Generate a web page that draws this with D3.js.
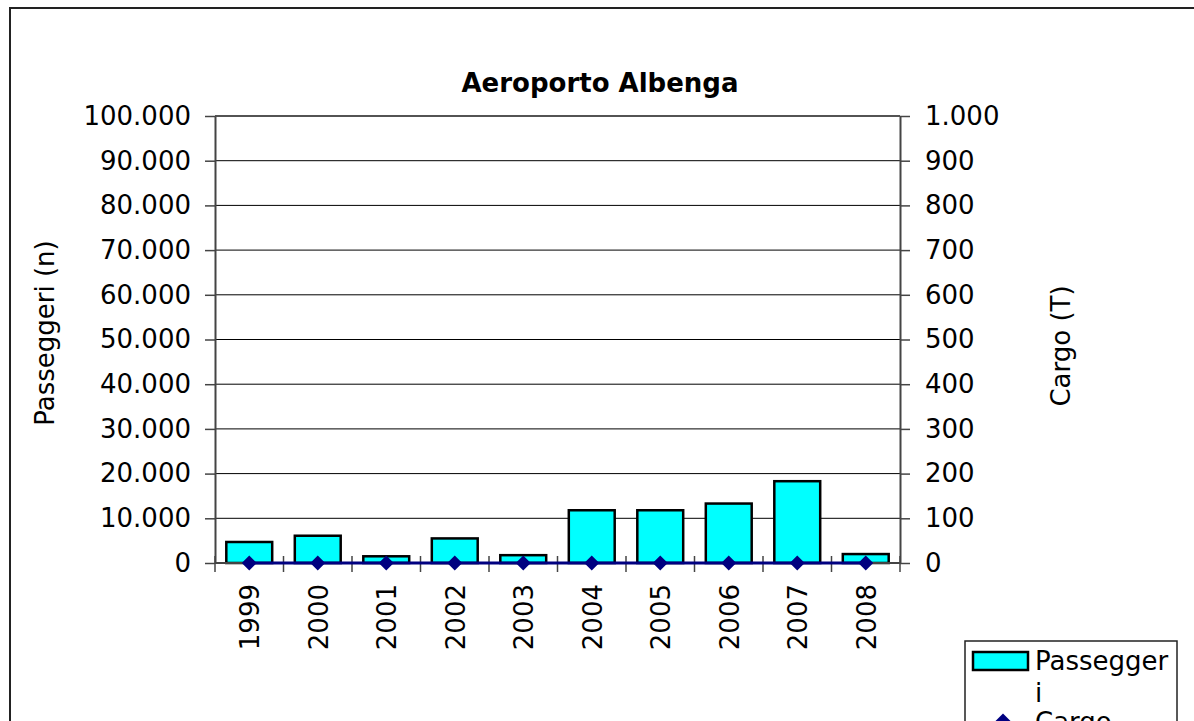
<!DOCTYPE html>
<html>
<head>
<meta charset="utf-8">
<script src="https://cdn.jsdelivr.net/npm/d3@7"></script>
<style>
html,body{margin:0;padding:0;background:#fff;}
svg{display:block;font-family:"DejaVu Sans",Verdana,sans-serif;}
</style>
</head>
<body>
<svg id="chart" width="1194" height="721"></svg>
<script>
const categories = ["1999","2000","2001","2002","2003","2004","2005","2006","2007","2008"];
const passeggeri = [4700, 6100, 1500, 5500, 1750, 11800, 11800, 13300, 18300, 2000];
const cargo = [0, 0, 0, 0, 0, 0, 0, 0, 0, 0];
const leftTicks = [0,10000,20000,30000,40000,50000,60000,70000,80000,90000,100000];
const rightTicks = [0,100,200,300,400,500,600,700,800,900,1000];
const title = "Aeroporto Albenga";
const leftTitle = "Passeggeri (n)";
const rightTitle = "Cargo (T)";
const seriesNames = ["Passeggeri", "Cargo"];

const svg = d3.select("#chart");
const plot = {left:215, right:900, top:116, bottom:563};
const fs = 26;

// outer border
svg.append("rect").attr("x",10).attr("y",8).attr("width",1200).attr("height",800)
  .attr("fill","#fff").attr("stroke","#222").attr("stroke-width",2);

const fmt = v => d3.format(",")(v).replace(/,/g,".");

const x = d3.scaleBand().domain(categories).range([plot.left, plot.right]).paddingInner(0).paddingOuter(0);
const yL = d3.scaleLinear().domain([0,100000]).range([plot.bottom, plot.top]);
const yR = d3.scaleLinear().domain([0,1000]).range([plot.bottom, plot.top]);

// gridlines
svg.append("g").selectAll("line").data(leftTicks.filter(d=>d>0)).join("line")
  .attr("x1",plot.left).attr("x2",plot.right)
  .attr("y1",d=>yL(d)).attr("y2",d=>yL(d))
  .attr("stroke","#000").attr("stroke-width",1);

// left axis
const gL = svg.append("g").attr("transform",`translate(${plot.left},0)`)
  .call(d3.axisLeft(yL).tickValues(leftTicks).tickFormat(fmt).tickSizeInner(10).tickSizeOuter(0).tickPadding(14));
gL.select(".domain").attr("stroke","#444").attr("stroke-width",2);
gL.selectAll(".tick line").attr("stroke","#444").attr("stroke-width",1.5);
gL.selectAll("text").attr("font-size",fs).attr("fill","#000").attr("font-family","DejaVu Sans");

// right axis
const gR = svg.append("g").attr("transform",`translate(${plot.right},0)`)
  .call(d3.axisRight(yR).tickValues(rightTicks).tickFormat(fmt).tickSizeInner(10).tickSizeOuter(0).tickPadding(15));
gR.select(".domain").attr("stroke","#444").attr("stroke-width",2);
gR.selectAll(".tick line").attr("stroke","#444").attr("stroke-width",1.5);
gR.selectAll("text").attr("font-size",fs).attr("fill","#000").attr("font-family","DejaVu Sans");

// bars
const bw = x.bandwidth()*0.67;
svg.append("g").selectAll("rect").data(categories).join("rect")
  .attr("x",(d)=>x(d)+x.bandwidth()/2-bw/2)
  .attr("y",(d,i)=>yL(passeggeri[i]))
  .attr("width",bw)
  .attr("height",(d,i)=>yL(0)-yL(passeggeri[i]))
  .attr("fill","#00ffff").attr("stroke","#000").attr("stroke-width",2.5);

// x axis
svg.append("line").attr("x1",plot.left).attr("x2",plot.right)
  .attr("y1",plot.bottom).attr("y2",plot.bottom).attr("stroke","#444").attr("stroke-width",2);
const bounds = categories.map(c=>x(c)).concat([plot.right]);
svg.append("g").selectAll("line").data(bounds).join("line")
  .attr("x1",d=>d).attr("x2",d=>d).attr("y1",plot.bottom-7).attr("y2",plot.bottom+9)
  .attr("stroke","#444").attr("stroke-width",1.5);
svg.append("g").selectAll("text").data(categories).join("text")
  .attr("transform",d=>`translate(${x(d)+x.bandwidth()/2+10},${plot.bottom+21}) rotate(-90)`)
  .attr("text-anchor","end").attr("font-size",fs).text(d=>d);

// top border of plot
svg.append("line").attr("x1",plot.left).attr("x2",plot.right)
  .attr("y1",plot.top).attr("y2",plot.top).attr("stroke","#444").attr("stroke-width",1.5);

// cargo line
const line = d3.line().x((d,i)=>x(categories[i])+x.bandwidth()/2).y(d=>yR(d));
svg.append("path").datum(cargo).attr("d",line).attr("fill","none")
  .attr("stroke","#000080").attr("stroke-width",3);
const diamond = "M0,-7.5L7.5,0L0,7.5L-7.5,0Z";
svg.append("g").selectAll("path").data(cargo).join("path")
  .attr("transform",(d,i)=>`translate(${x(categories[i])+x.bandwidth()/2},${yR(d)})`)
  .attr("d",diamond).attr("fill","#000080");

// titles
svg.append("text").attr("x",600).attr("y",92).attr("text-anchor","middle")
  .attr("font-size",fs).attr("font-weight","bold").text(title);
svg.append("text").attr("transform",`translate(54,333) rotate(-90)`).attr("text-anchor","middle")
  .attr("font-size",fs).text(leftTitle);
svg.append("text").attr("transform",`translate(1070,346) rotate(-90)`).attr("text-anchor","middle")
  .attr("font-size",fs).text(rightTitle);

// legend
const lg = svg.append("g");
lg.append("rect").attr("x",965).attr("y",641).attr("width",212).attr("height",100)
  .attr("fill","#fff").attr("stroke","#222").attr("stroke-width",1.5);
lg.append("rect").attr("x",973).attr("y",652).attr("width",55).attr("height",18)
  .attr("fill","#00ffff").attr("stroke","#000").attr("stroke-width",2.5);
lg.append("text").attr("x",1035).attr("y",670).attr("font-size",fs).text(seriesNames[0].slice(0,9));
lg.append("text").attr("x",1035).attr("y",702).attr("font-size",fs).text(seriesNames[0].slice(9));
lg.append("path").attr("transform","translate(1003,721)").attr("d",diamond).attr("fill","#000080");
lg.append("text").attr("x",1035).attr("y",731).attr("font-size",fs).text(seriesNames[1]);
</script>
</body>
</html>
